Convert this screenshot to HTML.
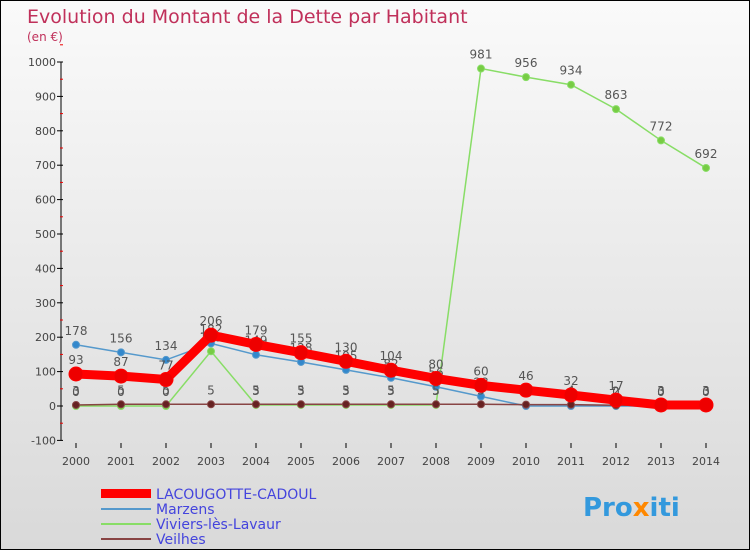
<!DOCTYPE html>
<html><head><meta charset="utf-8"><style>
body{margin:0}
#c{width:748px;height:548px;border:1px solid #000;position:relative;overflow:hidden;background:linear-gradient(#fafafa,#d9d9d9);font-family:"DejaVu Sans","Liberation Sans",sans-serif}
</style></head><body>
<div id="c">
<svg id="s" width="748" height="548" xmlns="http://www.w3.org/2000/svg">
<text x="26" y="22" font-size="19" fill="#c0305a">Evolution du Montant de la Dette par Habitant</text>
<text x="26" y="40" font-size="12" fill="#c0305a">(en €)</text>
<g id="axes"></g><g id="series"></g>
<g>
<rect x="100" y="488" width="50" height="9" fill="#ff0000"/>
<text x="155" y="498" font-size="14" fill="#4444dd">LACOUGOTTE-CADOUL</text>
<line x1="100" y1="508" x2="150" y2="508" stroke="#5599cc" stroke-width="2"/>
<text x="155" y="513" font-size="14" fill="#4444dd">Marzens</text>
<line x1="100" y1="523" x2="150" y2="523" stroke="#88dd66" stroke-width="2"/>
<text x="155" y="528" font-size="14" fill="#4444dd">Viviers-lès-Lavaur</text>
<line x1="100" y1="538" x2="150" y2="538" stroke="#884444" stroke-width="2"/>
<text x="155" y="543" font-size="14" fill="#4444dd">Veilhes</text>
</g>
<text x="582" y="515" font-size="26" font-weight="bold" fill="#3399dd">Pro<tspan fill="#ff8800">x</tspan>iti</text>
</svg>
</div>
<script>
const years=[2000,2001,2002,2003,2004,2005,2006,2007,2008,2009,2010,2011,2012,2013,2014];
const yTicks=[-100,0,100,200,300,400,500,600,700,800,900,1000];
const lacougotte=[93,87,77,206,179,155,130,104,80,60,46,32,17,3,3];
const marzens=[178,156,134,182,149,128,105,82,56,28,0,0,0,0,0];
const viviers=[0,0,0,159,3,3,3,3,3,981,956,934,863,772,692];
const veilhes=[3,5,5,5,5,5,5,5,5,5,4,4,2,3,3];
const NS="http://www.w3.org/2000/svg";
const X=y=>75+(y-2000)*45;
const Y=v=>405-v*0.344;
const ax=document.getElementById('axes'),sg=document.getElementById('series');
function mk(p,t,a){const e=document.createElementNS(NS,t);for(const k in a)e.setAttribute(k,a[k]);p.appendChild(e);return e;}
let l=mk(ax,'line',{x1:60,y1:Y(1000),x2:60,y2:Y(-100),stroke:'#000'});


yTicks.forEach(t=>{mk(ax,'line',{x1:56,y1:Y(t),x2:62,y2:Y(t),stroke:'#000'});
mk(ax,'line',{x1:59,y1:Y(t+50),x2:62,y2:Y(t+50),stroke:'#e00'});
const tx=mk(ax,'text',{x:55,y:Y(t)+4,'font-size':11,fill:'#444','text-anchor':'end'});tx.textContent=t;

});
years.forEach(y=>{mk(ax,'line',{x1:X(y),y1:442,x2:X(y),y2:447,stroke:'#000'});
const tx=mk(ax,'text',{x:X(y),y:464,'font-size':11,fill:'#444','text-anchor':'middle'});tx.textContent=y;

});
function series(d,col,w,r,fill,name){
const p=mk(sg,'polyline',{points:d.map((v,i)=>X(years[i])+','+Y(v)).join(' '),fill:'none',stroke:col,'stroke-width':w});


d.forEach((v,i)=>{const c=mk(sg,'circle',{cx:X(years[i]),cy:Y(v),r:r,fill:fill,stroke:col});


const t=mk(sg,'text',{x:X(years[i]),y:Y(v)-10,'font-size':12,fill:'#555','text-anchor':'middle'});t.textContent=v;

});}
series(viviers,'#88dd66',1.5,3.5,'#77cc44','viviers');
series(marzens,'#5599cc',1.5,3.5,'#3388cc','marzens');
series(veilhes,'#884444',1.5,3.5,'#662222','veilhes');
series(lacougotte,'#ff0000',9,7,'#ee0000','lacougotte');
</script>
</body></html>
